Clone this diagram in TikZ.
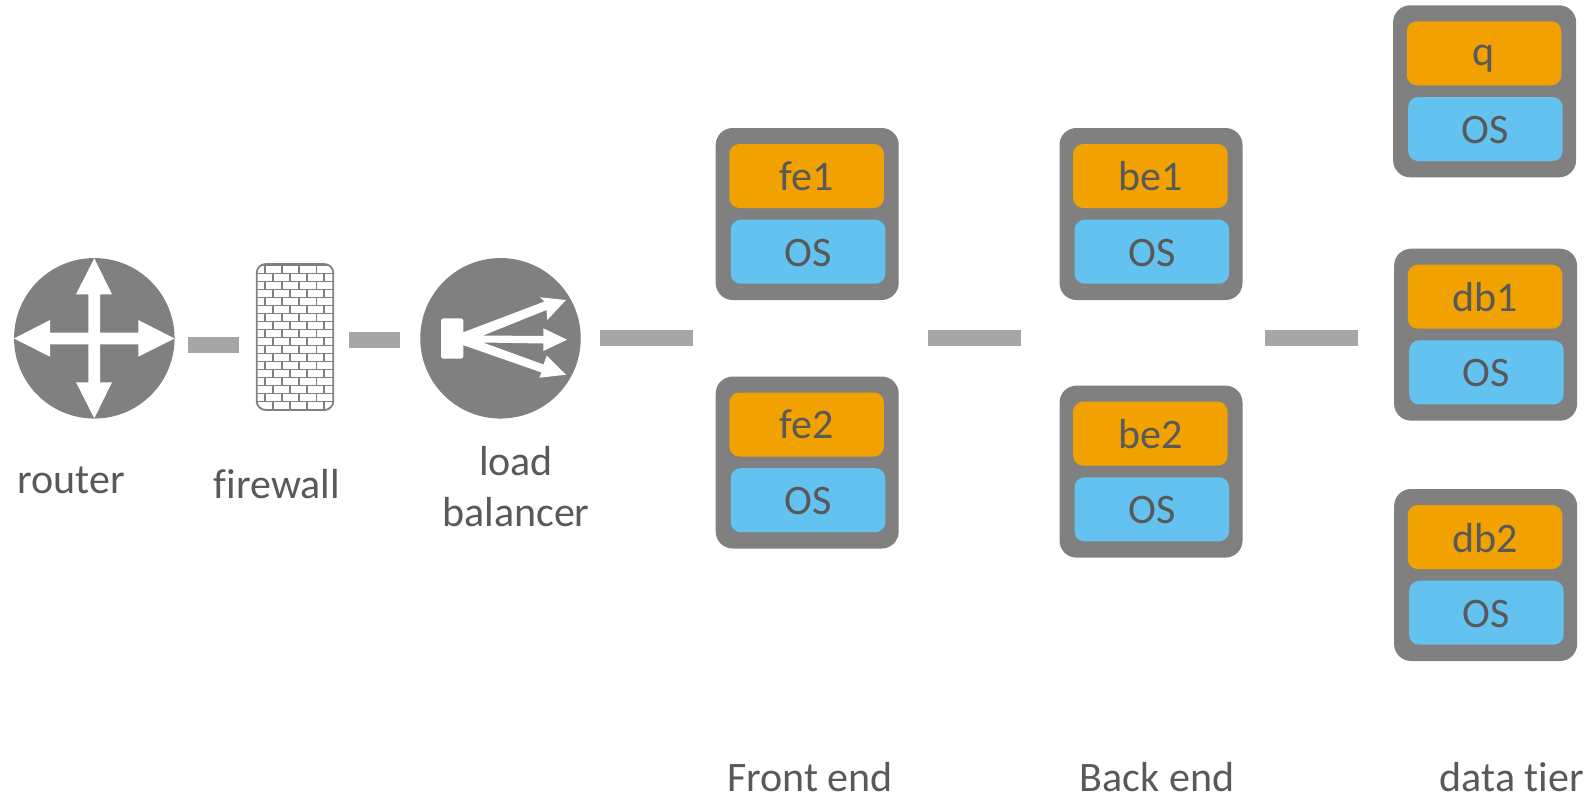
\documentclass[tikz,border=0pt]{standalone}
\usepackage{fontspec}
\setmainfont[Ligatures=NoCommon]{Carlito}
\definecolor{dk}{HTML}{808080}
\definecolor{bar}{HTML}{A6A6A6}
\definecolor{txt}{HTML}{595959}
\definecolor{org}{HTML}{F2A200}
\definecolor{blu}{HTML}{63C2F0}
\newcommand{\lbl}{\fontsize{42}{51}\selectfont\color{txt}}
\tikzset{
  x=1pt,y=-1pt,
  srvbox/.style={fill=dk,draw=none,rounded corners=17pt,minimum width=183pt,minimum height=172pt,inner sep=0pt,outer sep=0pt},
  appbox/.style={fill=org,draw=none,rounded corners=10pt,minimum width=154.5pt,minimum height=64pt,inner sep=0pt,font=\lbl,text depth=0pt},
  osbox/.style={fill=blu,draw=none,rounded corners=10pt,minimum width=154.5pt,minimum height=64pt,inner sep=0pt,font=\lbl,text depth=0pt},
  gapbar/.style={fill=bar,draw=none,inner sep=0pt,minimum height=16pt},
  caption/.style={font=\lbl,align=center,inner sep=0pt},
  disc/.style={circle,fill=dk,draw=none,minimum size=160.5pt,inner sep=0pt,outer sep=0pt},
  wh/.style={fill=white,draw=none},
  brick/.style={draw=dk,line width=1.6pt}
}
% name, centre x, top y, text
\newcommand{\srv}[4]{%
  \node[srvbox] (#1) at (#2,#3+86) {};
  \node[appbox] (#1app) at (#2-0.6,#3+48) {#4};
  \node[osbox] (#1os) at (#2+0.8,#3+123.7) {\raisebox{-1.5pt}{OS}};
}
\begin{document}
\begin{tikzpicture}
\useasboundingbox (0,0) rectangle (1590,796);
% router
\node[disc] (router) at (94.3,338.3) {};
\fill[wh] (94.3,258.3) -- (112,294.3) -- (100,294.3) -- (100,332.7) -- (138.3,332.7) -- (138.3,320) -- (174.5,338.5)
  -- (138.3,356.7) -- (138.3,344.3) -- (100,344.3) -- (100,382.3) -- (112,382.3) -- (94.3,418.3) -- (76,382.3)
  -- (88.3,382.3) -- (88.3,344.3) -- (50,344.3) -- (50,356.7) -- (14,338.5) -- (50,320) -- (50,332.7) -- (88.3,332.7)
  -- (88.3,294.3) -- (76,294.3) -- cycle;
% firewall
\node[draw=none,inner sep=0pt,minimum width=76.6pt,minimum height=146pt] (firewall) at (295,337) {};
\begin{scope}
  \clip[rounded corners=9pt] (256.7,264) rectangle (333.3,410);
  \foreach \r in {0,...,17}{
    \pgfmathsetmacro{\yy}{264+8*\r+1.5}
    \draw[brick] (256,\yy) -- (334,\yy);
    \pgfmathsetmacro{\xo}{mod(\r,2)==0 ? 265 : 272.7}
    \foreach \k in {0,1,2,3}{
      \pgfmathsetmacro{\xx}{\xo+17.1*\k}
      \draw[brick] (\xx,\yy) -- (\xx,\yy+8);
    }
  }
\end{scope}
\draw[draw=dk,line width=1.8pt,rounded corners=9pt] (256.7,264) rectangle (333.3,410);
% load balancer
\node[disc] (lb) at (500.5,338.3) {};
\fill[wh,rounded corners=2.5pt] (441,318.3) rectangle (463.3,358.7);
\fill[wh] (460,333.5) -- (544.5,301.5) -- (540,297.3) -- (566,300) -- (547.3,320) -- (546.5,310) -- (483,335.5)
  -- (543.3,336) -- (543.3,328.3) -- (567,339.7) -- (543.3,351) -- (543.3,343.5) -- (483,342.5)
  -- (543.5,364.5) -- (546.7,355.7) -- (566,374.7) -- (539.3,377.7) -- (541.5,372.5) -- (460,344) -- cycle;
% bars
\node[gapbar,minimum width=50.7pt] (b1) at (213.3,344.7) {};
\node[gapbar,minimum width=51pt] (b2) at (374.8,340.3) {};
\node[gapbar,minimum width=93pt] (b3) at (646.5,338) {};
\node[gapbar,minimum width=93.5pt] (b4) at (974.7,338) {};
\node[gapbar,minimum width=93.5pt] (b5) at (1311.3,338) {};
% servers
\srv{fe1}{807.2}{128}{fe1}
\srv{fe2}{807.2}{376.5}{fe2}
\srv{be1}{1151}{128}{be1}
\srv{be2}{1151}{385.6}{be2}
\srv{q}{1484.6}{5.3}{\raisebox{-3pt}{q}}
\srv{db1}{1485.6}{248.7}{db1}
\srv{db2}{1485.6}{489}{\raisebox{-1.5pt}{db2}}
% captions
\node[caption] (tr) at (71,480) {router};
\node[caption] (tf) at (277,484) {firewall};
\node[caption] (tl) at (516,486.5) {load\\balancer};
\node[caption] (tfe) at (810,777) {Front end};
\node[caption] (tbe) at (1157,777) {Back end};
\node[caption] (tdt) at (1512,777) {data tier};
\end{tikzpicture}
\end{document}
